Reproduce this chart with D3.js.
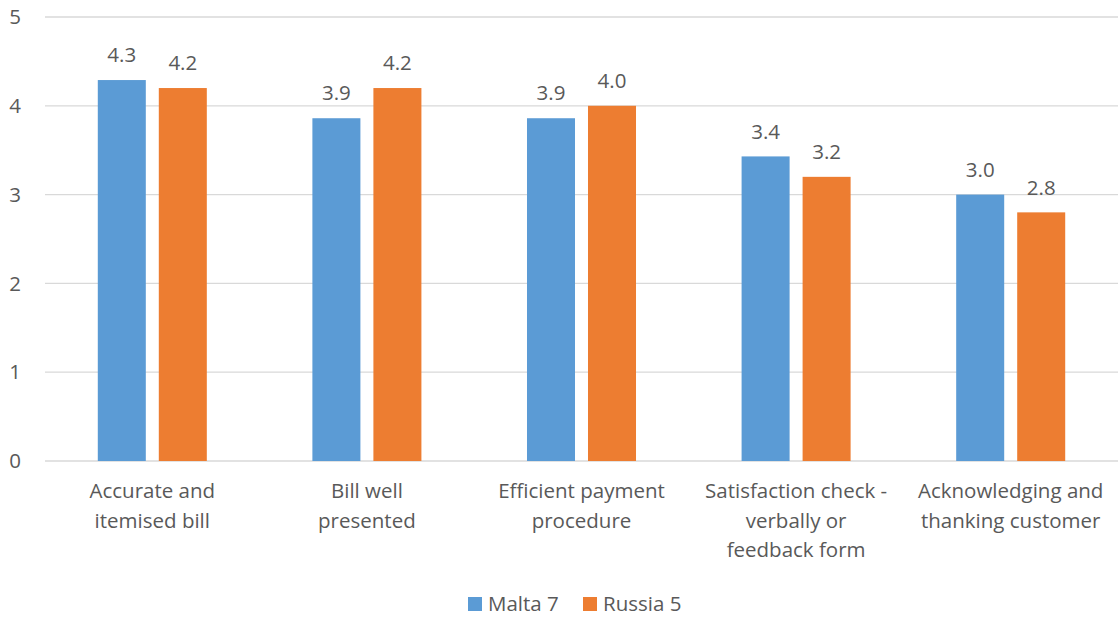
<!DOCTYPE html>
<html lang="en">
  <head>
    <meta charset="utf-8">
    <title>Bill presentation scores</title>
    <style>
      body { margin: 0; background: #fff; }
      text { font-family: "Open Sans", "Noto Sans", sans-serif; fill: #595959; }
      .grid line { stroke: #d9d9d9; stroke-width: 1.3px; }
    </style>
  </head>
  <body>
<script src="https://cdn.jsdelivr.net/npm/d3@7"></script>
<script>

// ************** Data *****************
const categories = [
  ["Accurate and", "itemised bill"],
  ["Bill well", "presented"],
  ["Efficient payment", "procedure"],
  ["Satisfaction check -", "verbally or", "feedback form"],
  ["Acknowledging and", "thanking customer"]
];
const series = ["Malta 7", "Russia 5"];
const malta = [4.29, 3.86, 3.86, 3.43, 3.00];
const russia = [4.2, 4.2, 4.0, 3.2, 2.8];
const yTicks = [0, 1, 2, 3, 4, 5];
const colors = ["#5b9bd5", "#ed7d31"];

const values = [malta, russia];

// ************** Layout *****************
const width = 1120, height = 617;
const plotLeft = 45, plotRight = 1118, plotTop = 17, plotBottom = 461;
const fontSize = "20.5px";

const svg = d3.select("body").append("svg")
    .attr("width", width)
    .attr("height", height);

const y = d3.scaleLinear().domain([0, 5]).range([plotBottom, plotTop]);

const x0 = d3.scaleBand()
    .domain(d3.range(categories.length))
    .range([plotLeft, plotRight])
    .paddingInner(0.492)
    .paddingOuter(0.246);

const x1 = d3.scaleBand()
    .domain(series)
    .range([0, x0.bandwidth()])
    .paddingInner(0.213);

// gridlines
svg.append("g").attr("class", "grid")
  .selectAll("line")
  .data(yTicks)
  .join("line")
    .attr("x1", plotLeft).attr("x2", plotRight)
    .attr("y1", d => y(d)).attr("y2", d => y(d));

// y tick labels
svg.append("g")
  .selectAll("text")
  .data(yTicks)
  .join("text")
    .attr("x", 21)
    .attr("y", d => y(d))
    .attr("dy", "0.35em")
    .attr("text-anchor", "end")
    .style("font-size", fontSize)
    .text(d => d);

// bars
const groups = svg.append("g")
  .selectAll("g")
  .data(categories)
  .join("g")
    .attr("transform", (d, i) => "translate(" + x0(i) + ",0)");

groups.selectAll("rect")
  .data((d, i) => series.map((s, j) => ({ s: s, j: j, v: values[j][i] })))
  .join("rect")
    .attr("x", d => x1(d.s))
    .attr("width", x1.bandwidth())
    .attr("y", d => y(d.v))
    .attr("height", d => y(0) - y(d.v))
    .attr("fill", d => colors[d.j]);

groups.selectAll("text.val")
  .data((d, i) => series.map((s, j) => ({ s: s, j: j, v: values[j][i] })))
  .join("text")
    .attr("class", "val")
    .attr("x", d => x1(d.s) + x1.bandwidth() / 2)
    .attr("y", d => y(d.v) - 25)
    .attr("dy", "0.35em")
    .attr("text-anchor", "middle")
    .style("font-size", fontSize)
    .text(d => d.v.toFixed(1));

// category labels
svg.append("g")
  .selectAll("text")
  .data(categories)
  .join("text")
    .attr("text-anchor", "middle")
    .style("font-size", fontSize)
    .attr("x", (d, i) => x0(i) + x0.bandwidth() / 2)
    .attr("y", 491)
  .selectAll("tspan")
  .data(d => d)
  .join("tspan")
    .attr("x", function() { return this.parentNode.getAttribute("x"); })
    .attr("dy", (d, i) => i === 0 ? "0.35em" : "29.5px")
    .text(d => d);

// legend
const legendX = [468, 583];
const legend = svg.append("g")
  .selectAll("g")
  .data(series)
  .join("g")
    .attr("transform", (d, i) => "translate(" + legendX[i] + ",604)");

legend.append("rect")
    .attr("x", 0).attr("y", -7)
    .attr("width", 14).attr("height", 14)
    .attr("fill", (d, i) => colors[i]);

legend.append("text")
    .attr("x", 20)
    .attr("dy", "0.35em")
    .style("font-size", fontSize)
    .text(d => d);

</script>
  </body>
</html>
